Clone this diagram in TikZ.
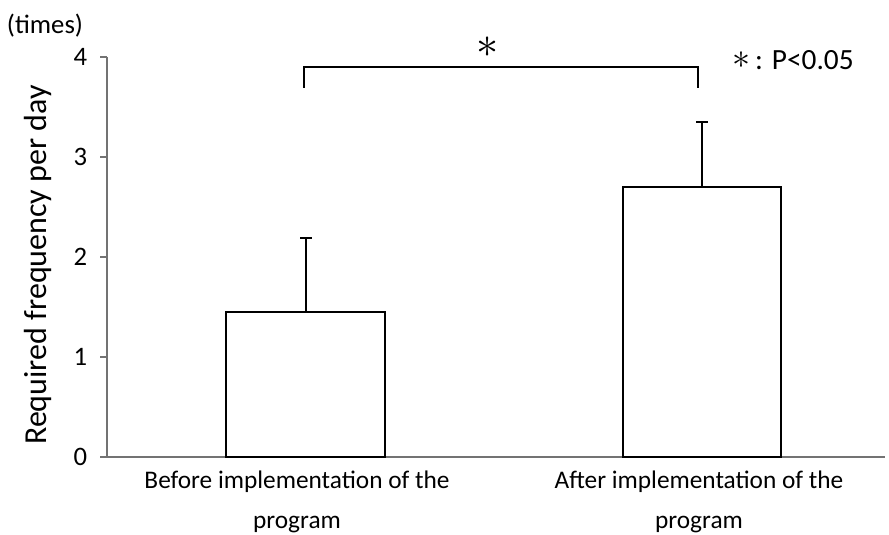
\documentclass[tikz,border=0pt]{standalone}
\usepackage{fontspec}
\setmainfont{Carlito}
\begin{document}
\begin{tikzpicture}[x=0.75pt,y=-0.75pt,
	axe/.style={draw=black!55, line width=1pt},
	barre/.style={draw=black, line width=1.1pt, fill=white},
	lbl/.style={font=\fontsize{20}{30}\selectfont}]
	\useasboundingbox (0,0) rectangle (889,535);
	% axes
	\coordinate (O) at (107,457);
	\coordinate (T) at (107,57);
	\coordinate (E) at (885,457);
	\draw[axe] (T) -- (O) -- (E);
	\foreach \v in {0,...,4}
		\draw[axe] (100,457-100*\v) -- (107,457-100*\v) node[lbl, anchor=east, xshift=-11pt] {\v};
	\draw (45,26) node[lbl] (U) {(times)};
	\draw (38,265) node[font=\fontsize{24}{28}\selectfont, rotate=90] (Y) {Required frequency per day};
	% barres
	\draw[barre] (226,457) rectangle (385,312);
	\draw[barre] (623,457) rectangle (781,187);
	\draw[barre] (306,312) -- (306,238) coordinate (A);
	\draw[barre] ([xshift=-4.5pt]A) -- ([xshift=4.5pt]A);
	\draw[barre] (702,187) -- (702,122) coordinate (B);
	\draw[barre] ([xshift=-4.5pt]B) -- ([xshift=4.5pt]B);
	\draw (297,502) node[lbl, font=\fontsize{19}{30}\selectfont, align=center] (L1) {Before implementation of the\\program};
	\draw (699,502) node[lbl, font=\fontsize{19}{30}\selectfont, align=center] (L2) {After implementation of the\\program};
	% significativite
	\coordinate (C) at (304,88);
	\coordinate (D) at (698,88);
	\draw[line width=1.1pt] (C) |- (487,67) -| (D);
	\draw (488,47) node[font=\fontsize{20}{20}\selectfont] (S) {\scalebox{1.6}{$\ast$}};
	\draw (793,60) node[font=\fontsize{22}{26}\selectfont] (P) {\raisebox{1pt}{\scalebox{1.3}{\fontsize{20}{20}\selectfont$\ast$}}\,: P<0.05};
\end{tikzpicture}
\end{document}
